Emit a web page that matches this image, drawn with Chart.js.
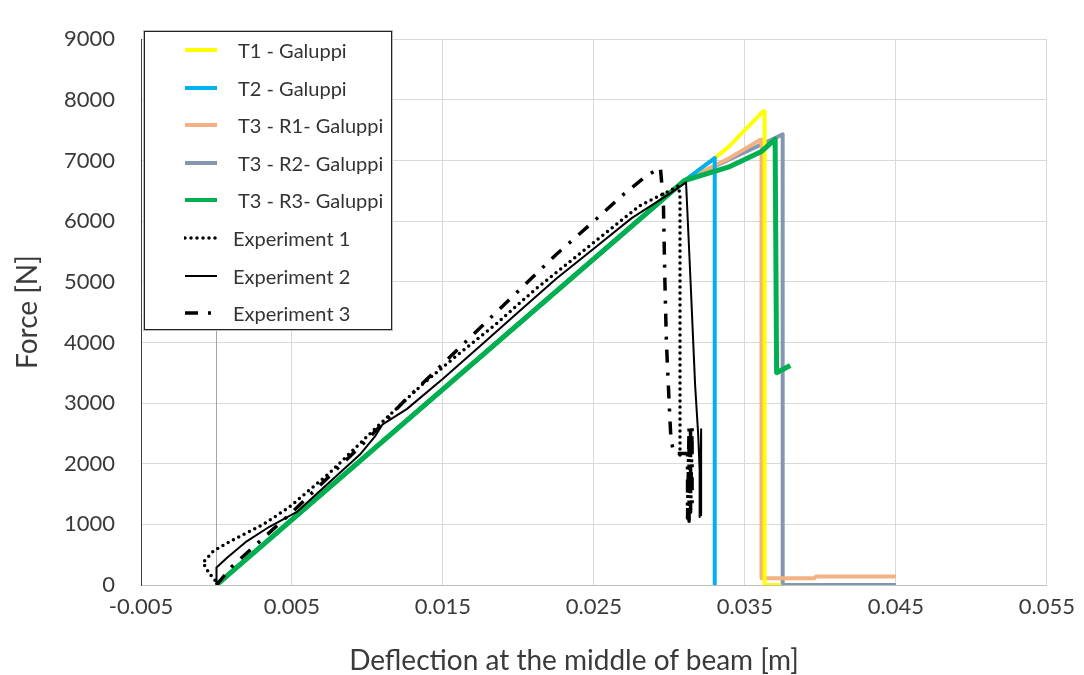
<!DOCTYPE html>
<html>
<head>
<meta charset="utf-8">
<script src="https://cdn.jsdelivr.net/npm/chart.js@4.4.1/dist/chart.umd.min.js"></script>
<style>
  html, body { margin: 0; padding: 0; background: #fff; }
  #wrap { position: relative; width: 1084px; height: 675px; font-family: Lato, "Open Sans", sans-serif; }
  #chart { position: absolute; left: 0; top: 0; }
  #xtitle {
    position: absolute; left: 0; width: 1148px; top: 644px; text-align: center;
    font-size: 28px; line-height: 30px; color: #3a3a3a; white-space: nowrap;
  }
  #legend {
    position: absolute; left: 144px; top: 31px; width: 246px; height: 297px;
    border: 1px solid #222; background: #fff; box-shadow: 0 0 0 1px #bbb;
  }
  .row { position: absolute; left: 0; height: 24px; font-size: 20px; color: #333; }
  .row svg { position: absolute; left: 39px; top: 7px; }
  .row span { position: absolute; white-space: nowrap; line-height: 24px; top: 0; }
</style>
</head>
<body>
<div id="wrap">
  <canvas id="chart" width="1084" height="675"></canvas>
  <div id="xtitle">Deflection at the middle of beam [m]</div>
  <div id="legend"></div>
</div>
<script>
// --- Datos (x = flecha [m], y = fuerza [N]) ---
const t1X = [0, 0.0310, 0.0330, 0.0339, 0.0362, 0.0363, 0.0363, 0.0374];
const t1Y = [0, 6670, 7040, 7220, 7810, 7810, 0, 0];

const t2X = [0, 0.0310, 0.0330, 0.0330];
const t2Y = [0, 6670, 7040, 0];

const r1X = [0, 0.0310, 0.0339, 0.0360, 0.0361, 0.0361, 0.0396, 0.0397, 0.0450];
const r1Y = [0, 6670, 7030, 7340, 7340, 110, 110, 140, 140];

const r2X = [0, 0.0310, 0.0370, 0.0375, 0.0375, 0.0450];
const r2Y = [0, 6670, 7370, 7430, 0, 0];

const r3X = [0, 0.0310, 0.0339, 0.0361, 0.0370, 0.0371, 0.0380];
const r3Y = [0, 6670, 6890, 7150, 7350, 3500, 3620];

const exp1X = [-0.0001, -0.0005, -0.0009, -0.0002, 0.0009, 0.0031, 0.0048, 0.0075, 0.0106, 0.0136, 0.0160, 0.0185, 0.0210, 0.0235, 0.0260, 0.0280, 0.0300, 0.0306, 0.0307, 0.0307];
const exp1Y = [80, 200, 370, 560, 720, 1000, 1280, 1850, 2600, 3300, 3800, 4300, 4850, 5350, 5850, 6250, 6500, 6580, 6400, 2050];

const exp2X = [0, 0, 0.0007, 0.0020, 0.0035, 0.0053, 0.0075, 0.0095, 0.0105, 0.0110, 0.0126, 0.0150, 0.0175, 0.0200, 0.0225, 0.0250, 0.0275, 0.0300, 0.0311, 0.0314, 0.0317, 0.0319, 0.0320, 0.0320, 0.0321, 0.0321, 0.0321];
const exp2Y = [0, 290, 450, 720, 960, 1200, 1700, 2150, 2450, 2650, 2900, 3400, 3950, 4500, 5050, 5550, 6050, 6450, 6640, 5000, 3300, 2500, 1900, 1120, 2570, 1150, 2400];

const exp3X = [0, 0.0010, 0.0030, 0.0050, 0.0075, 0.0100, 0.0125, 0.0150, 0.0175, 0.0200, 0.0225, 0.0250, 0.0270, 0.0285, 0.0294, 0.0295, 0.0296, 0.0297, 0.0298, 0.0300, 0.0301, 0.0303, 0.0309, 0.0312, 0.0312, 0.0313, 0.0313, 0.0314, 0.0314, 0.0315, 0.0315];
const exp3Y = [0, 300, 750, 1200, 1800, 2400, 3050, 3650, 4250, 4850, 5450, 6000, 6450, 6750, 6880, 6600, 6300, 5000, 4000, 2900, 2400, 2170, 2170, 2170, 1100, 2600, 1050, 2620, 1200, 2600, 1300];

// Ejes
const xMin = -0.005, xMax = 0.055, xStep = 0.01;
const yMin = 0, yMax = 9000, yStep = 1000;

const toPoints = (xs, ys) => xs.map((x, i) => ({ x: x, y: ys[i] }));

// --- Series ---
const series = [
  { label: "T1 - Galuppi", xs: t1X, ys: t1Y, color: "#ffff00", width: 4, dash: [], order: 6 },
  { label: "T2 - Galuppi", xs: t2X, ys: t2Y, color: "#00b0f0", width: 4, dash: [], order: 5 },
  { label: "T3 - R1- Galuppi", xs: r1X, ys: r1Y, color: "#f4b183", width: 4, dash: [], order: 7 },
  { label: "T3 - R2- Galuppi", xs: r2X, ys: r2Y, color: "#8497b0", width: 4, dash: [], order: 8 },
  { label: "T3 - R3- Galuppi", xs: r3X, ys: r3Y, color: "#00b050", width: 5, dash: [], order: 4 },
  { label: "Experiment 1", xs: exp1X, ys: exp1Y, color: "#000000", width: 3.5, dash: [0, 6], cap: "round", order: 1 },
  { label: "Experiment 2", xs: exp2X, ys: exp2Y, color: "#000000", width: 2, dash: [], order: 0 },
  { label: "Experiment 3", xs: exp3X, ys: exp3Y, color: "#000000", width: 3.5, dash: [13, 10, 3, 10], order: 2 },
];

// Linea vertical del eje en x = 0
const zeroLine = {
  id: "zeroLine",
  beforeDatasetsDraw(chart) {
    const { ctx, chartArea, scales } = chart;
    const px = Math.round(scales.x.getPixelForValue(0)) + 0.5;
    ctx.save();
    ctx.strokeStyle = "#a6a6a6";
    ctx.lineWidth = 1;
    ctx.beginPath();
    ctx.moveTo(px, chartArea.top);
    ctx.lineTo(px, chartArea.bottom);
    ctx.stroke();
    ctx.restore();
  },
};

const tickFont = { family: "Lato, 'Open Sans', sans-serif", size: 22 };
const titleFont = { family: "Lato, 'Open Sans', sans-serif", size: 28, lineHeight: 1 };
const textColor = "#3a3a3a";

new Chart(document.getElementById("chart"), {
  type: "scatter",
  data: {
    datasets: series.map((s) => ({
      label: s.label,
      data: toPoints(s.xs, s.ys),
      showLine: true,
      borderColor: s.color,
      backgroundColor: s.color,
      borderWidth: s.width,
      borderDash: s.dash,
      borderCapStyle: s.cap || "butt",
      borderJoinStyle: "round",
      pointRadius: 0,
      tension: 0,
      order: s.order,
    })),
  },
  options: {
    responsive: false,
    animation: false,
    devicePixelRatio: 1,
    layout: { padding: { left: 0, top: 24, right: 34, bottom: 0 } },
    plugins: { legend: { display: false }, tooltip: { enabled: false } },
    scales: {
      x: {
        type: "linear",
        min: xMin,
        max: xMax,
        ticks: {
          stepSize: xStep,
          color: textColor,
          font: tickFont,
          padding: 9,
          maxRotation: 0,
          callback: (v) => v.toFixed(3),
        },
        grid: { color: "#d9d9d9", drawTicks: false },
        border: { color: "#bfbfbf" },
        // El titulo del eje X va en HTML (#xtitle), centrado como en la figura
        title: { display: false },
        afterFit(scale) { scale.height = 90; },
      },
      y: {
        type: "linear",
        min: yMin,
        max: yMax,
        ticks: {
          stepSize: yStep,
          color: textColor,
          font: tickFont,
          padding: 26,
          callback: (v) => String(v),
        },
        grid: { color: "#d9d9d9", drawTicks: false },
        border: { color: "#404040" },
        title: {
          display: true,
          text: "Force [N]",
          color: textColor,
          font: titleFont,
          padding: { top: 14, bottom: 0 },
        },
        afterFit(scale) { scale.width = 141; },
      },
    },
  },
  plugins: [zeroLine],
});

// --- Leyenda HTML dentro del area del grafico ---
const legendEl = document.getElementById("legend");
const rowTops = [18, 56, 93, 131, 168, 206, 244, 281];
legendEl.innerHTML = series
  .map((s, i) => {
    const textLeft = s.label.startsWith("Experiment") ? 88 : 93;
    const dashAttr = s.dash.length ? `stroke-dasharray="${s.dash.join(" ")}"` : "";
    const cap = s.cap || "butt";
    return `<div class="row" style="top:${rowTops[i] - 12}px; width:246px;">
      <svg width="34" height="10"><line x1="1" y1="5" x2="33" y2="5" stroke="${s.color}" stroke-width="${Math.min(s.width, 4)}" stroke-linecap="${cap}" ${dashAttr}/></svg>
      <span style="left:${textLeft}px">${s.label}</span>
    </div>`;
  })
  .join("");
</script>
</body>
</html>
